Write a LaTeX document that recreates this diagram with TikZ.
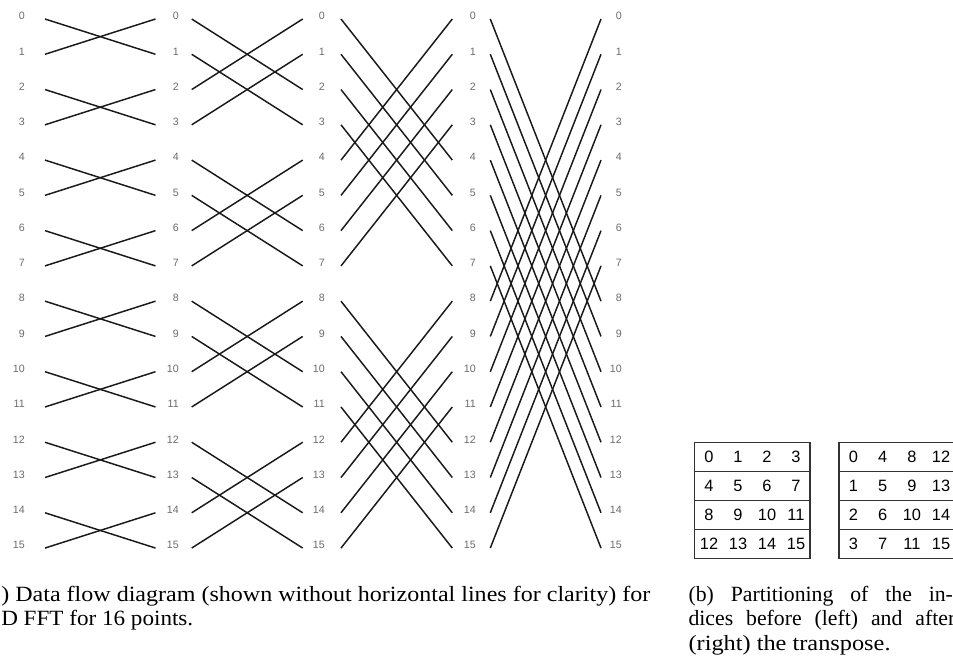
\documentclass[tikz,border=0pt]{standalone}
\usepackage{graphicx}
\usepackage{fontspec}
\setmainfont{Liberation Serif}
\newfontfamily\lblfont{Liberation Sans}
\newsavebox\fitbox
\newcommand\fitto[2]{\sbox\fitbox{#2}\pgfmathsetmacro\fitfac{#1*0.75/\wd\fitbox}\scalebox{\fitfac}[1]{\usebox\fitbox}}
\begin{document}
\begin{tikzpicture}[x=0.75pt,y=-0.75pt,
  wire/.style={line width=1.1pt, black!90},
  idx/.style={font=\lblfont\fontsize{8}{9}\selectfont, text=black!58, anchor=east, inner sep=0pt, text height=5.7pt, text depth=0pt},
  cell/.style={font=\lblfont\fontsize{12.3}{14}\selectfont, inner sep=0pt, text height=8.8pt, text depth=0pt},
  tablerule/.style={line width=0.8pt, draw=black!80},
  captext/.style={font=\fontsize{16.3}{19}\selectfont, anchor=base west, inner sep=0pt}]
\useasboundingbox (0,0) rectangle (953,665);
\clip (0,0) rectangle (953,665);
% index labels
\foreach \c/\rx in {0/25,1/179,2/325,3/476,4/622}{
  \foreach \i in {0,...,15}{
    \node[idx] (L\c-\i) at ({\rx},{16+35.27*\i}) {\i};
  }
}
% butterfly wires
\foreach \s/\lx/\rx/\d in {1/45/155.5/1, 2/191.7/302.7/2, 3/341/452.3/4, 4/490.3/601/8}{
  \foreach \i in {0,...,15}{
    \coordinate (A\s-\i) at ({\lx},{19+35.27*\i});
    \coordinate (B\s-\i) at ({\rx},{19+35.27*\i});
  }
  \foreach \i in {0,...,15}{
    \pgfmathtruncatemacro\j{mod(floor(\i/\d),2)==0 ? \i+\d : \i-\d}
    \draw[wire] (A\s-\i) -- (B\s-\j);
  }
}
% tables
\draw[tablerule] (694.3,442.7) rectangle (810,558.3);
\draw[tablerule] (839,442.7) rectangle (954.7,558.3);
\foreach \yy in {471.7,500.7,529.3}{
  \draw[tablerule] (694.3,\yy) -- (810,\yy);
  \draw[tablerule] (839,\yy) -- (954.7,\yy);
}
\foreach \r in {0,...,3}{
  \foreach \c in {0,...,3}{
    \pgfmathtruncatemacro\va{4*\r+\c}
    \pgfmathtruncatemacro\vb{\r+4*\c}
    \node[cell] (P\r-\c) at ({709+29*\c},{456.7+28.9*\r}) {\va};
    \node[cell] (Q\r-\c) at ({853.5+29.2*\c},{456.7+28.9*\r}) {\vb};
  }
}
% captions
\node[captext] (ca1) at (1,601) {\fitto{649}{) Data flow diagram (shown without horizontal lines for clarity) for}};
\node[captext] (ca2) at (1,625.5) {\fitto{192}{D FFT for 16 points.}};
\node[captext] (cb1) at (688.3,601) {\hbox to 198.3pt{(b)\hfill Partitioning\hfill of\hfill the\hfill in-}};
\node[captext] (cb2) at (688.3,625.5) {\hbox to 200pt{dices\hfill before\hfill (left)\hfill and\hfill after}};
\node[captext] (cb3) at (688.3,650) {\fitto{202}{(right) the transpose.}};
\end{tikzpicture}
\end{document}
